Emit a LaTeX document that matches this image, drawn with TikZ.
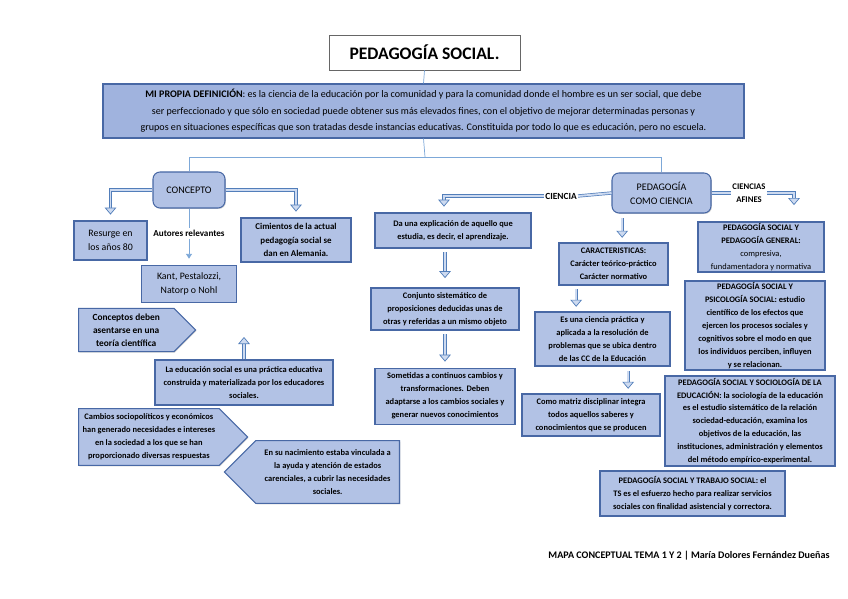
\documentclass[tikz,border=0pt]{standalone}
\usepackage{fontspec}
\setmainfont{Carlito}
\usetikzlibrary{arrows.meta,positioning,shapes.symbols,shadows}

\definecolor{boxfill}{RGB}{178,194,229}
\definecolor{deffill}{RGB}{160,179,222}
\definecolor{boxline}{RGB}{72,104,165}
\definecolor{linkblue}{RGB}{125,168,216}
\definecolor{arrowblue}{RGB}{82,126,186}
\definecolor{arrowfill}{RGB}{205,218,240}

\begin{document}
\begin{tikzpicture}[
  x=0.03cm, y=-0.03cm,
  box/.style={draw=boxline,fill=boxfill,line width=0.9pt,align=center,inner sep=1pt,
    font=\fontsize{7.2}{11}\selectfont\bfseries,
    drop shadow={shadow xshift=0.8pt,shadow yshift=-0.8pt,fill=black!35}},
  hub/.style={box,rounded corners=6pt,font=\fontsize{8.6}{12}\selectfont},
  tag/.style={box,signal,signal pointer angle=90},
  tagword/.style={font=\fontsize{8}{10}\selectfont\bfseries,align=center,inner sep=1pt},
  link/.style={draw=linkblue,line width=0.6pt},
  hollow/.style={draw=arrowblue,double=arrowfill,double distance=1.6pt,line width=0.6pt},
  blockarrow/.style={hollow,-{Triangle[width=10pt,length=6pt,fill=arrowfill]}}
]
  \useasboundingbox (0,0) rectangle (848,599);

  \node[draw=black!60,line width=0.7pt,minimum width=5.73cm,minimum height=1.05cm,
    font=\fontsize{15}{18}\selectfont\bfseries] (title) at (424.5,52.5) {PEDAGOGÍA SOCIAL.};
  \node[box,fill=deffill,minimum width=19.23cm,minimum height=1.62cm,
    font=\fontsize{8.6}{14}\selectfont] (def) at (423.5,111)
    {\textbf{MI PROPIA DEFINICIÓN}: es la ciencia de la educación por la comunidad y para la comunidad donde el hombre es un ser social, que debe\\
     ser perfeccionado y que sólo en sociedad puede obtener sus más elevados fines, con el objetivo de mejorar determinadas personas y\\
     grupos en situaciones específicas que son tratadas desde instancias educativas. Constituida por todo lo que es educación, pero no escuela.};

  \node[hub,minimum width=2.16cm,minimum height=1.08cm] (concepto) at (189,190) {CONCEPTO};
  \node[hub,minimum width=2.97cm,minimum height=1.2cm] (pcc) at (661.5,193) {PEDAGOGÍA\\COMO CIENCIA};
  \coordinate (fork) at (425,157);

  \node[box,minimum width=2.19cm,minimum height=1.17cm,font=\fontsize{8.4}{12}\selectfont] (resurge) at (110.5,240.5) {Resurge en\\los años 80};
  \node[box,below=1.68cm of concepto,minimum width=2.85cm,minimum height=1.11cm,
    font=\fontsize{8.4}{12}\selectfont] (kant) {Kant, Pestalozzi,\\Natorp o Nohl};
  \node[box,minimum width=3.3cm,minimum height=1.32cm,font=\fontsize{7.6}{11.5}\selectfont\bfseries] (cimientos) at (296,240)
    {Cimientos de la actual\\pedagogía social se\\dan en Alemania.};
  \node[tag,signal to=east,anchor=west,minimum width=3.51cm,minimum height=1.3cm,
    font=\fontsize{8}{11}\selectfont\bfseries] (conceptos) at (78,330)
    {Conceptos deben\\asentarse en una\\teoría científica};
  \node[box,minimum width=5.34cm,minimum height=1.35cm] (edu) at (244,382.5)
    {La educación social es una práctica educativa\\construida y materializada por los educadores\\sociales.};
  \coordinate (eduup) at (244,337);
  \node[tag,signal to=east,anchor=west,minimum width=5.07cm,minimum height=1.7cm] (cambios) at (78,437)
    {Cambios sociopolíticos y económicos\\han generado necesidades e intereses\\en la sociedad a los que se han\\proporcionado diversas respuestas};
  \node[tag,signal to=west,anchor=east,minimum width=5.25cm,minimum height=1.88cm] (nacimiento) at (400,472)
    {En su nacimiento estaba vinculada a\\la ayuda y atención de estados\\carenciales, a cubrir las necesidades\\sociales.};

  \node[tagword] (ciencia) at (561,196) {CIENCIA};
  \node[box,minimum width=4.68cm,minimum height=1.05cm] (daun) at (453,230.5)
    {Da una explicación de aquello que\\estudia, es decir, el aprendizaje.};
  \node[box,minimum width=4.44cm,minimum height=1.26cm] (conjunto) at (445,309)
    {Conjunto sistemático de\\proposiciones deducidas unas de\\otras y referidas a un mismo objeto};
  \node[box,below=1.11cm of conjunto,minimum width=4.2cm,minimum height=1.68cm] (sometidas)
    {Sometidas a continuos cambios y\\transformaciones. Deben\\adaptarse a los cambios sociales y\\generar nuevos conocimientos};

  \node[box,minimum width=3.27cm,minimum height=1.26cm] (caract) at (613.5,264)
    {CARACTERISTICAS:\\Carácter teórico-práctico\\Carácter normativo};
  \node[box,minimum width=4.05cm,minimum height=1.62cm] (esuna) at (602.5,339)
    {Es una ciencia práctica y\\aplicada a la resolución de\\problemas que se ubica dentro\\de las CC de la Educación};
  \node[box,minimum width=4.14cm,minimum height=1.26cm] (matriz) at (591,415)
    {Como matriz disciplinar integra\\todos aquellos saberes y\\conocimientos que se producen};

  \node[tagword,font=\fontsize{7.4}{11}\selectfont\bfseries] (afines) at (749,193) {CIENCIAS\\AFINES};
  \node[box,minimum width=3.78cm,minimum height=1.5cm] (general) at (761,247)
    {PEDAGOGÍA SOCIAL Y\\PEDAGOGÍA GENERAL:\\\mdseries compresiva,\\\mdseries fundamentadora y normativa};
  \node[box,minimum width=4.2cm,minimum height=2.67cm] (psico) at (755,325.5)
    {PEDAGOGÍA SOCIAL Y\\PSICOLOGÍA SOCIAL: estudio\\científico de los efectos que\\ejercen los procesos sociales y\\cognitivos sobre el modo en que\\los individuos perciben, influyen\\y se relacionan.};
  \node[box,minimum width=5.1cm,minimum height=2.7cm] (socio) at (750,421)
    {PEDAGOGÍA SOCIAL Y SOCIOLOGÍA DE LA\\EDUCACIÓN: la sociología de la educación\\es el estudio sistemático de la relación\\sociedad-educación, examina los\\objetivos de la educación, las\\instituciones, administración y elementos\\del método empírico-experimental.};
  \node[box,minimum width=5.55cm,minimum height=1.35cm] (trabajo) at (692.5,493.5)
    {PEDAGOGÍA SOCIAL Y TRABAJO SOCIAL: el\\TS es el esfuerzo hecho para realizar servicios\\sociales con finalidad asistencial y correctora.};

  \node[font=\fontsize{8.6}{10}\selectfont\bfseries] (footer) at (689,556)
    {MAPA CONCEPTUAL TEMA 1 Y 2 | María Dolores Fernández Dueñas};

  \draw[link] (title.south) -- (def.north);
  \draw[link] (def.south) -- (fork);
  \draw[link] (fork) -| (concepto.north);
  \draw[link] (fork) -| (pcc.north);

  \draw[blockarrow] (concepto.west) -| ([yshift=5pt]resurge.north);
  \draw[blockarrow] (concepto.east) -| ([yshift=5pt]cimientos.north);
  \draw[link,-{Triangle[width=5pt,length=4pt]}] (concepto.south) -- node[fill=white,inner sep=2pt,
    font=\fontsize{7.8}{10}\selectfont\bfseries]{Autores relevantes} ([yshift=5pt]kant.north);
  \draw[blockarrow] (edu.north) -- (eduup);

  \draw[hollow] (pcc.west) -- (ciencia.east);
  \draw[blockarrow] (ciencia.west) -| ([xshift=-0.27cm,yshift=5pt]daun.north);
  \draw[blockarrow,shorten <=3pt,shorten >=8pt] (daun.south -| conjunto.north) -- (conjunto.north);
  \draw[blockarrow,shorten <=3pt,shorten >=5pt] (conjunto.south) -- (sometidas.north);

  \draw[blockarrow,shorten <=4pt,shorten >=4pt] ([xshift=0.26cm]caract.north |- pcc.south) -- ([xshift=0.26cm]caract.north);
  \draw[blockarrow,shorten <=3pt,shorten >=4pt] ([xshift=-1.12cm]caract.south) -- ([xshift=-1.12cm]caract.south |- esuna.north);
  \draw[blockarrow,shorten <=4pt,shorten >=4pt] ([xshift=0.77cm]esuna.south) -- ([xshift=0.77cm]esuna.south |- matriz.north);

  \draw[hollow] (pcc.east) -- (afines.west);
  \draw[blockarrow] (afines.east) -| ([xshift=0.99cm,yshift=14pt]general.north);
\end{tikzpicture}
\end{document}
